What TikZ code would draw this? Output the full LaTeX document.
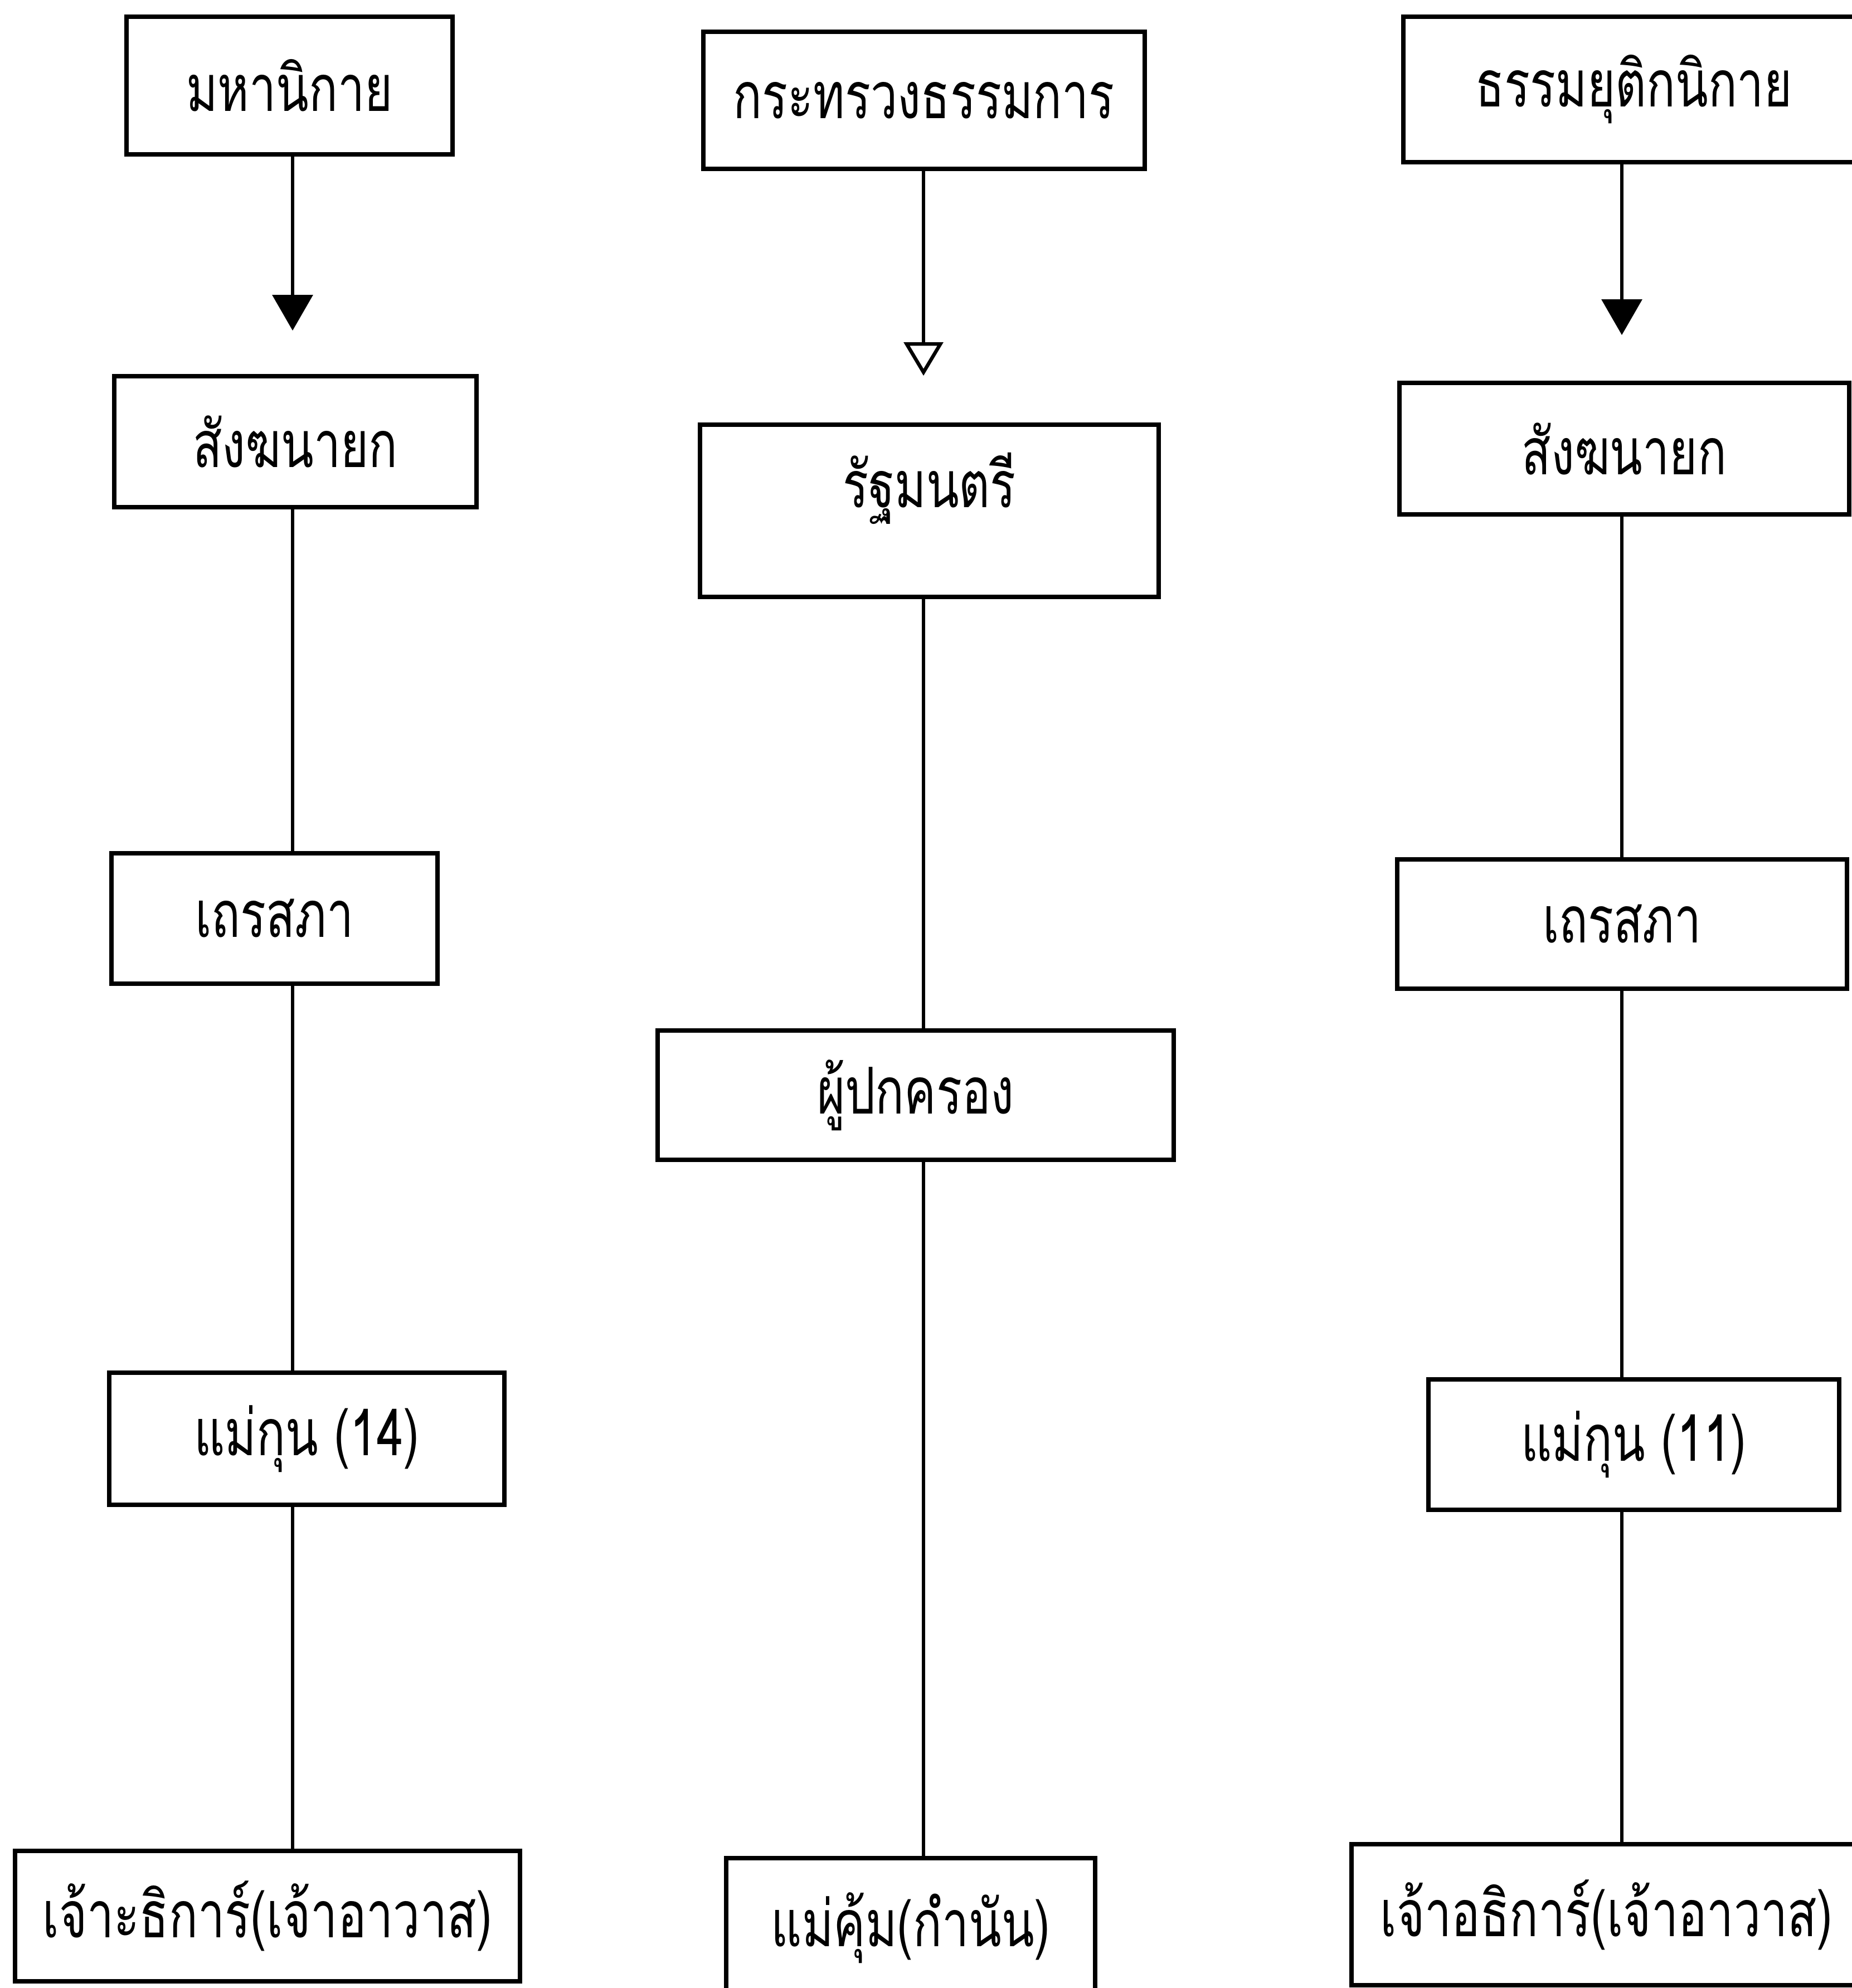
\documentclass[tikz,border=0pt]{standalone}
\usepackage{fontspec}
\newfontfamily\thaifont[Script=Thai,FakeStretch=0.74]{Loma}
\usetikzlibrary{arrows.meta}
\tikzset{
  box/.style 2 args={draw, line width=2.2pt, inner sep=0pt, minimum width=#1cm, minimum height=#2cm,
    font=\thaifont\fontsize{33}{40}\selectfont},
  link/.style={line width=1.8pt},
  solidtip/.style={link, -{Triangle[width=0.72cm, length=0.64cm, fill=black]}},
  opentip/.style={link, -{Triangle[open, width=0.7cm, length=0.6cm, line width=1.8pt]}},
}
\begin{document}
\begin{tikzpicture}
\clip (0,0) rectangle (33.23,-35.67);
\fill[white] (0,0) rectangle (33.23,-35.67);
\coordinate (colL) at (5.25,0);
\coordinate (colM) at (16.57,0);
\coordinate (colR) at (29.1,0);
% mahanikai
\node[box={5.85}{2.47}] (mahan) at (5.195,-1.535) {มหานิกาย};
\node[box={6.50}{2.35}] (sangL) at (5.30,-7.925) {สังฆนายก};
\node[box={5.85}{2.34}] (therL) at (4.925,-16.48) {เถรสภา};
\node[box={7.09}{2.37}] (maekL) at (5.505,-25.815) {แม่กุน (14)};
\node[box={9.06}{2.34}] (chaoL) at (4.80,-34.38) {เจ้าะธิการ์(เจ้าอาวาส)};
% thammakan
\node[box={7.92}{2.46}] (ministry) at (16.58,-1.80) {กระทรวงธรรมการ};
\node[box={8.23}{3.09}, text depth=1.1cm] (minister) at (16.675,-9.165) {รัฐมนตรี};
\node[box={9.26}{2.32}] (guard) at (16.43,-19.65) {ผู้ปกครอง};
\node[box={6.62}{2.50}] (maekhum) at (16.34,-34.59) {แม่คุ้ม(กำนัน)};
% thammayut
\node[box={8.27}{2.61}] (dhamma) at (29.315,-1.605) {ธรรมยุติกนิกาย};
\node[box={8.07}{2.36}] (sangR) at (29.145,-8.05) {สังฆนายก};
\node[box={8.07}{2.32}] (therR) at (29.105,-16.58) {เถรสภา};
\node[box={7.37}{2.34}] (maekR) at (29.315,-25.92) {แม่กุน (11)};
\node[box={9.15}{2.53}] (chaoR) at (28.825,-34.355) {เจ้าอธิการ์(เจ้าอาวาส)};

\draw[solidtip, shorten >=0.78cm] (mahan.south -| colL) -- (sangL.north -| colL);
\draw[link] (sangL.south -| colL) -- (therL.north -| colL);
\draw[link] (therL.south -| colL) -- (maekL.north -| colL);
\draw[link] (maekL.south -| colL) -- (chaoL.north -| colL);

\draw[opentip, shorten >=0.84cm] (ministry.south -| colM) -- (minister.north -| colM);
\draw[link] (minister.south -| colM) -- (guard.north -| colM);
\draw[link] (guard.south -| colM) -- (maekhum.north -| colM);

\draw[solidtip, shorten >=0.82cm] (dhamma.south -| colR) -- (sangR.north -| colR);
\draw[link] (sangR.south -| colR) -- (therR.north -| colR);
\draw[link] (therR.south -| colR) -- (maekR.north -| colR);
\draw[link] (maekR.south -| colR) -- (chaoR.north -| colR);
\end{tikzpicture}
\end{document}
